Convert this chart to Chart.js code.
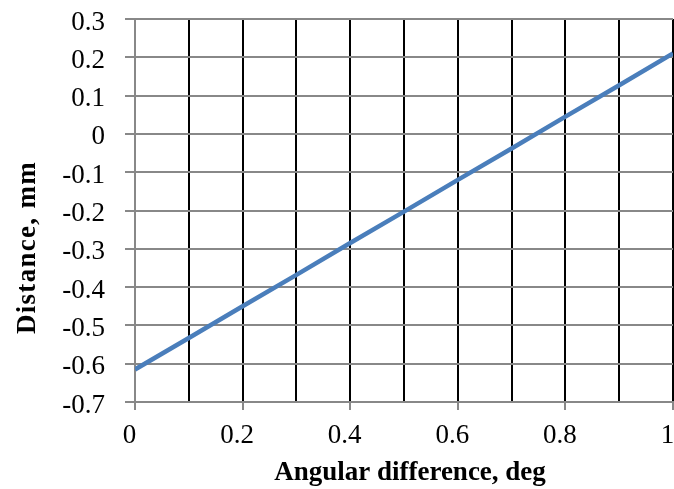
<!DOCTYPE html>
<html>
<head>
<meta charset="utf-8">
<script src="https://cdn.jsdelivr.net/npm/chart.js@4"></script>
<style>
html,body{margin:0;padding:0;background:#fff;}
#wrap{width:674px;height:489px;position:relative;}
</style>
</head>
<body>
<div id="wrap"><canvas id="c" width="674" height="489"></canvas></div>
<script>
const angles = [0, 0.1, 0.2, 0.3, 0.4, 0.5, 0.6, 0.7, 0.8, 0.9, 1.0];
const distances = [-0.615, -0.533, -0.45, -0.368, -0.285, -0.203, -0.12, -0.038, 0.045, 0.127, 0.21];
const xTickValues = [0, 0.1, 0.2, 0.3, 0.4, 0.5, 0.6, 0.7, 0.8, 0.9, 1.0];
const xTickLabels = ['0', '', '0.2', '', '0.4', '', '0.6', '', '0.8', '', '1'];
const yTickValues = [-0.7, -0.6, -0.5, -0.4, -0.3, -0.2, -0.1, 0, 0.1, 0.2, 0.3];
const yTickLabels = ['-0.7', '-0.6', '-0.5', '-0.4', '-0.3', '-0.2', '-0.1', '0', '0.1', '0.2', '0.3'];
const xTitle = 'Angular difference, deg';
const yTitle = 'Distance, mm';

const GRAY = '#888888';
const SERIF = '"Liberation Serif", "Times New Roman", serif';
const points = angles.map((a, i) => ({x: a, y: distances[i]}));

const axisTitles = {
  id: 'axisTitles',
  afterDraw(chart) {
    const ctx = chart.ctx;
    const ca = chart.chartArea;
    ctx.save();
    ctx.fillStyle = '#000';
    ctx.font = 'bold 27px ' + SERIF;
    ctx.textAlign = 'center';
    ctx.textBaseline = 'alphabetic';
    ctx.fillText(xTitle, (ca.left + ca.right) / 2 + 6, chart.height - 9);
    ctx.translate(35, (ca.top + ca.bottom) / 2 + 37);
    ctx.rotate(-Math.PI / 2);
    if ('letterSpacing' in ctx) ctx.letterSpacing = '1.3px';
    ctx.fillText(yTitle, 0, 0);
    ctx.restore();
  }
};

new Chart(document.getElementById('c'), {
  type: 'line',
  data: {
    datasets: [{
      data: points,
      borderColor: '#4a7ebb',
      borderWidth: 4.5,
      pointRadius: 0,
      fill: false,
      tension: 0
    }]
  },
  plugins: [axisTitles],
  options: {
    responsive: false,
    animation: false,
    devicePixelRatio: 1,
    layout: {padding: {top: 19, right: 1, left: 0, bottom: 0}},
    plugins: {legend: {display: false}, tooltip: {enabled: false}},
    scales: {
      x: {
        type: 'linear',
        min: 0, max: 1,
        afterBuildTicks: s => { s.ticks = xTickValues.map(v => ({value: v})); },
        afterFit: s => { s.height = 87; s.paddingRight = 0; s.paddingLeft = 0; },
        border: {display: true, color: GRAY, width: 2},
        grid: {
          color: c => (c.index === 0 ? GRAY : '#000000'),
          lineWidth: 2,
          drawTicks: true,
          tickLength: 8,
          tickColor: c => (c.index % 2 === 0 ? GRAY : 'rgba(0,0,0,0)'),
          tickWidth: 2
        },
        ticks: {
          autoSkip: false,
          maxRotation: 0,
          padding: 10,
          labelOffset: -5.5,
          color: '#000',
          font: {family: SERIF, size: 27},
          callback: (v, i) => xTickLabels[i]
        },
        title: {display: false}
      },
      y: {
        type: 'linear',
        min: -0.7, max: 0.3,
        afterBuildTicks: s => { s.ticks = yTickValues.map(v => ({value: v})); },
        afterFit: s => { s.width = 135; s.paddingTop = 0; s.paddingBottom = 0; },
        border: {display: true, color: GRAY, width: 2},
        grid: {
          color: GRAY,
          lineWidth: 2,
          drawTicks: true,
          tickLength: 10,
          tickColor: GRAY,
          tickWidth: 2
        },
        ticks: {
          autoSkip: false,
          padding: 20,
          labelOffset: 3.5,
          color: '#000',
          font: {family: SERIF, size: 27},
          callback: (v, i) => yTickLabels[i]
        },
        title: {display: false}
      }
    }
  }
});
</script>
</body>
</html>
